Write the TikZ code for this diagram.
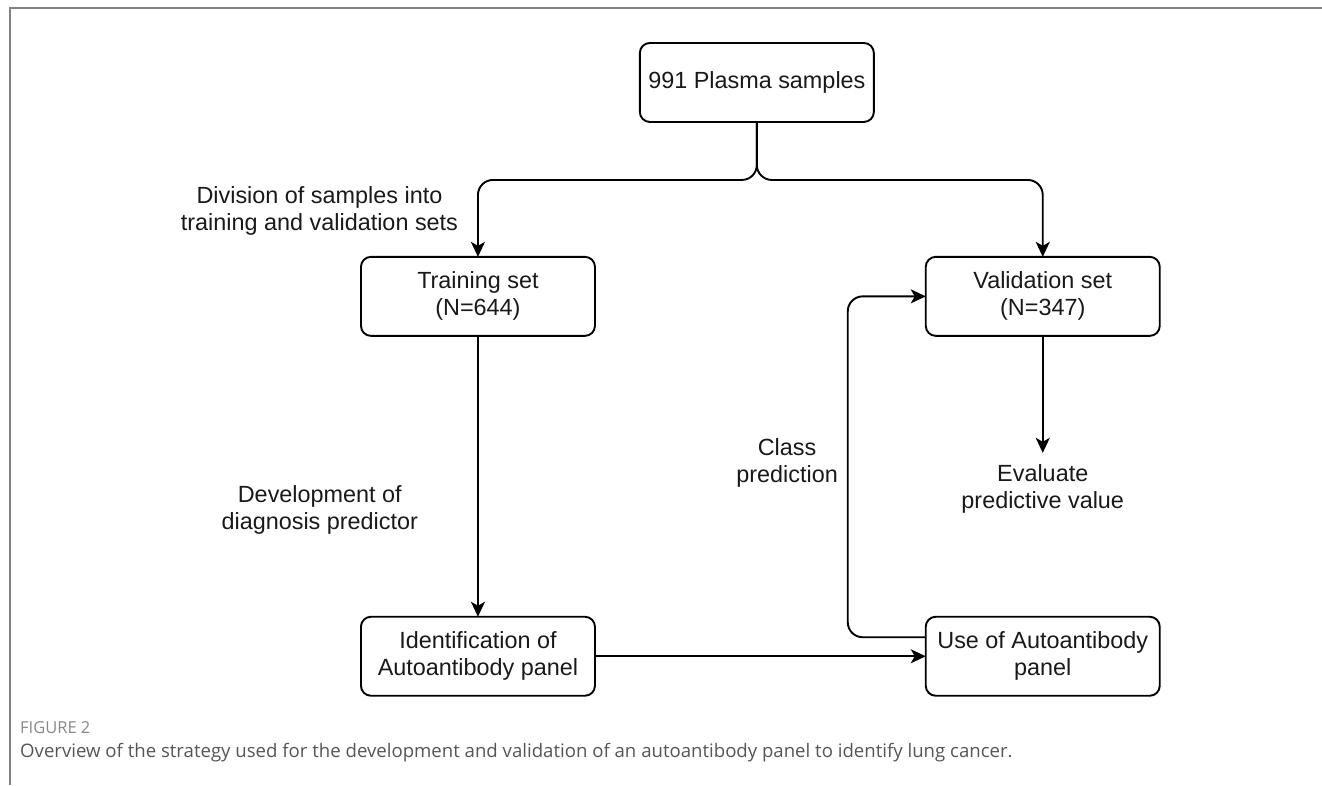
\documentclass[tikz,border=0pt]{standalone}
\usepackage{fontspec}
\setmainfont{Liberation Sans}
\newfontfamily\capfont{Open Sans}
\usetikzlibrary{matrix,positioning,arrows.meta}
\definecolor{framegray}{RGB}{130,130,130}
\definecolor{capgray}{RGB}{85,85,85}
\definecolor{inkdark}{RGB}{25,25,25}

\begin{document}
\begin{tikzpicture}[
  box/.style={draw, rounded corners=10pt, line width=1.9pt, minimum width=234pt,
    minimum height=79pt, align=center, inner sep=0pt},
  lbl/.style={align=center, inner sep=4pt},
  arr/.style={line width=1.9pt, -{Stealth[length=15pt,width=14pt,inset=4pt]}},
  font=\fontsize{23.4}{27}\selectfont, text=inkdark
  ]
  \useasboundingbox (0,0) rectangle (1322pt,-785pt);
  \draw[framegray, line width=2pt] (1322pt,-8pt) -- (10pt,-8pt) -- (10pt,-785pt);

  \matrix (m) [anchor=north west, inner sep=0pt, outer sep=0pt,
    column sep=43pt, row sep=133pt] at (360pt,-42pt)
  {
    & \node[box] (plasma) {991 Plasma samples}; &[7pt] \\
    \node[box] (train) {Training set\\(N=644)}; & & \node[box] (valid) {Validation set\\(N=347)}; \\[146pt]
    \node[box] (ident) {Identification of\\Autoantibody panel}; & & \node[box] (use) {Use of Autoantibody\\panel}; \\
  };

  \draw[arr, rounded corners=15pt] (plasma.south) -- ++(0,-58pt) -| node[lbl, pos=0.7, left=15pt] (division) {Division of samples into\\training and validation sets} (train.north);
  \draw[arr, rounded corners=15pt] (plasma.south) -- ++(0,-58pt) -| (valid.north);
  \draw[arr] (train) -- node[lbl, pos=0.62, left=55pt] (develop) {Development of\\diagnosis predictor} (ident);
  \draw[arr] (ident) -- (use);
  \draw[arr, rounded corners=15pt] ([yshift=19pt]use.west) -- ++(-78pt,0) |- node[lbl, pos=0.255, left=5pt] (classpred) {Class\\prediction} (valid.west);
  \node[lbl, below=124pt of valid] (evaluate) {Evaluate\\predictive value};
  \draw[arr, shorten >=7pt] (valid) -- (evaluate);

  % caption
  \node[anchor=base west, inner sep=0pt, font=\capfont\fontsize{16.5}{18}\selectfont, text=capgray!70] (figlabel) at (20pt,-733pt) {FIGURE 2};
  \node[anchor=base west, inner sep=0pt, font=\capfont\fontsize{18.6}{20}\selectfont, text=capgray] (caption) at (20pt,-757pt) {Overview of the strategy used for the development and validation of an autoantibody panel to identify lung cancer.};
\end{tikzpicture}
\end{document}
